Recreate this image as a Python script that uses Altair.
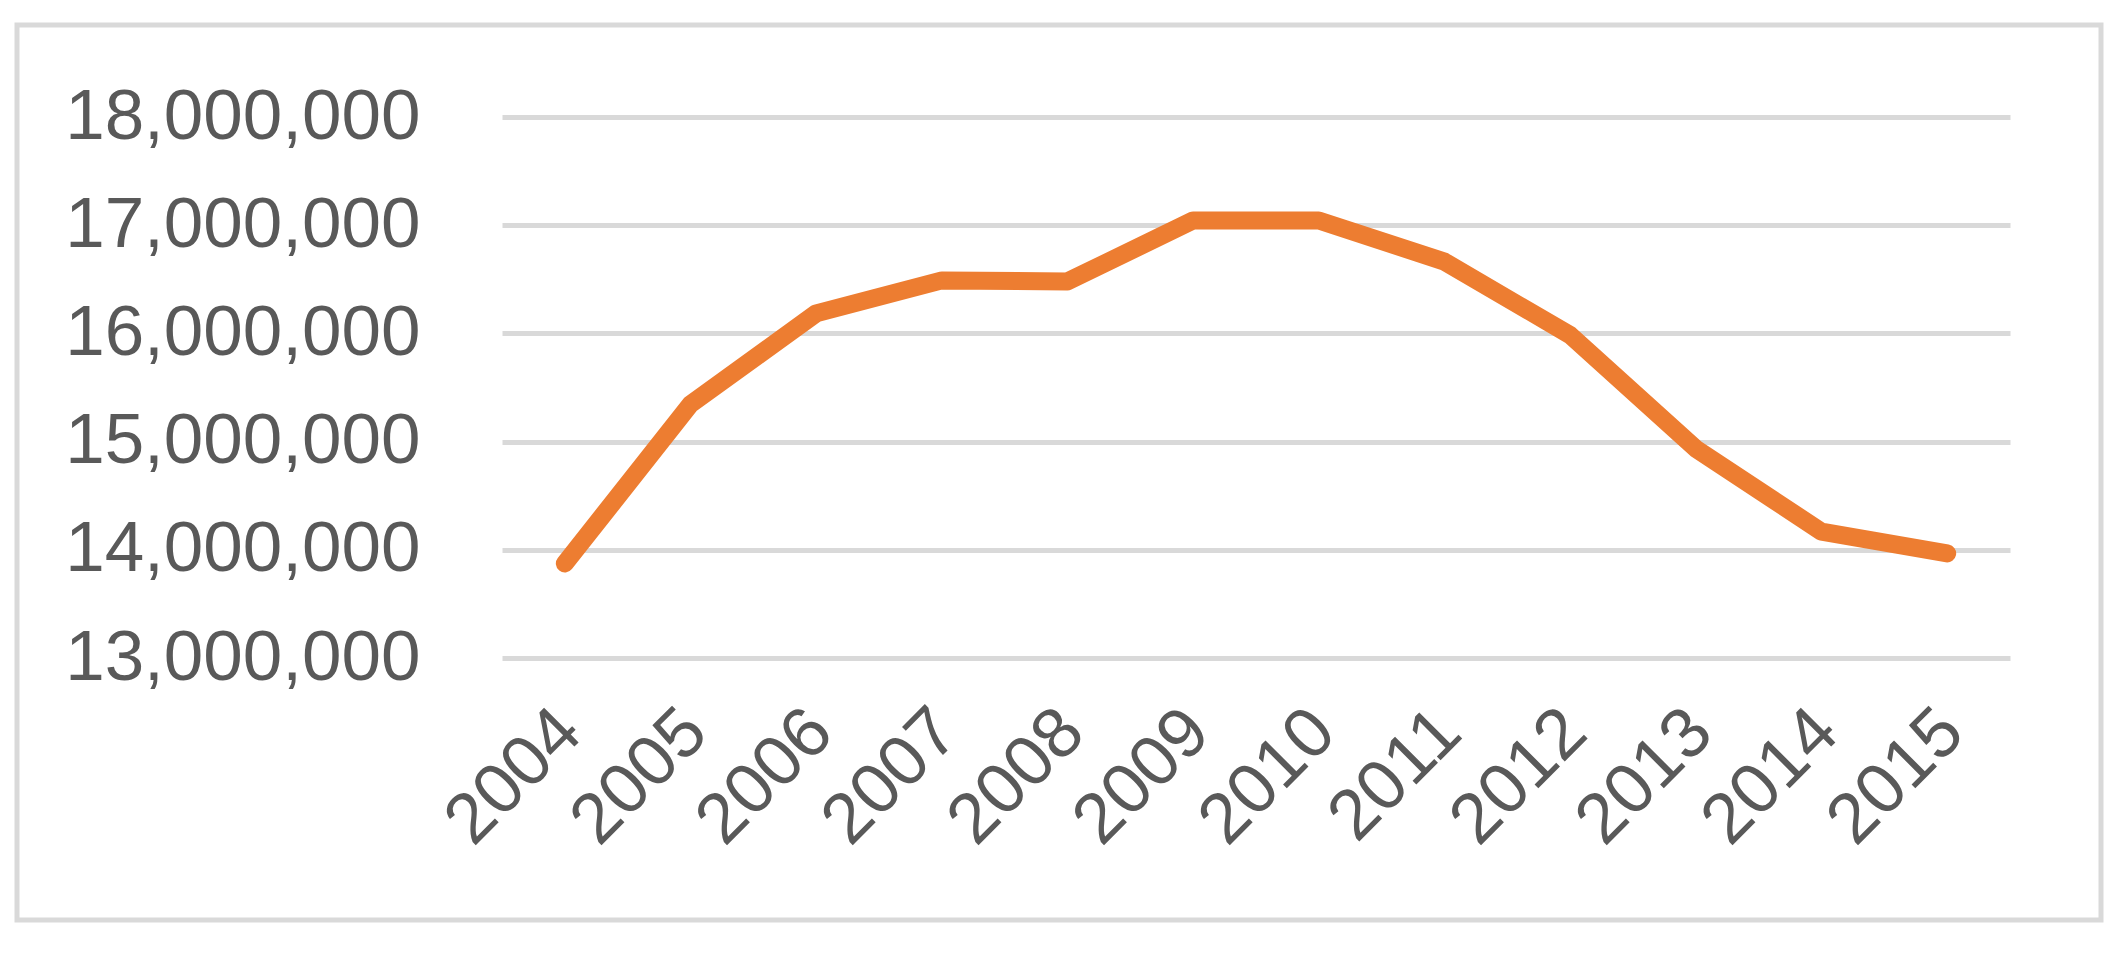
import altair as alt
import pandas as pd

years = ["2004", "2005", "2006", "2007", "2008", "2009", "2010", "2011", "2012", "2013", "2014", "2015"]
values = [13873000, 15345000, 16185000, 16490000, 16480000, 17044000, 17044000, 16663000, 15984000, 14935000, 14167000, 13966000]
y_ticks = [13000000, 14000000, 15000000, 16000000, 17000000, 18000000]

df = pd.DataFrame({"year": years, "value": values})

FONT = "Liberation Sans"
GRAY_TXT = "#595959"
GRID = "#d9d9d9"

line = alt.Chart(df).mark_line(
    color="#ED7D31", strokeWidth=18, strokeCap="round", strokeJoin="round"
).encode(
    x=alt.X("year:O", sort=years,
            scale=alt.Scale(type="point", padding=0.5),
            axis=alt.Axis(title=None, labelAngle=-45, labelAlign="right", labelBaseline="top",
                          labelFontSize=71, labelFont=FONT, labelColor=GRAY_TXT,
                          labelPadding=38, labelOffset=-20, labelLimit=1000,
                          ticks=False, tickSize=0, domain=False, grid=False)),
    y=alt.Y("value:Q",
            scale=alt.Scale(domain=[13000000, 18000000], nice=False, zero=False),
            axis=alt.Axis(title=None, values=y_ticks,
                          labelExpr="format(datum.value, ',')",
                          labelFontSize=71, labelFont=FONT, labelColor=GRAY_TXT,
                          labelPadding=82, labelLimit=1000, ticks=False, tickSize=0, domain=False,
                          grid=True, gridColor=GRID, gridWidth=5)),
)

frame = alt.Chart(pd.DataFrame({"a": [0]})).mark_rect(
    filled=False, stroke=GRID, strokeWidth=5
).encode(
    x=alt.value(-485), x2=alt.value(1599), y=alt.value(-92), y2=alt.value(803)
)

chart = alt.layer(frame, line).properties(
    width=1508, height=541,
    autosize=alt.AutoSizeParams(type="none"),
    padding={"left": 494, "top": 109, "right": 108, "bottom": 290},
    background="white",
).configure_view(stroke=None)

chart.save("out.html", embed_options={"renderer": "svg", "actions": False})
